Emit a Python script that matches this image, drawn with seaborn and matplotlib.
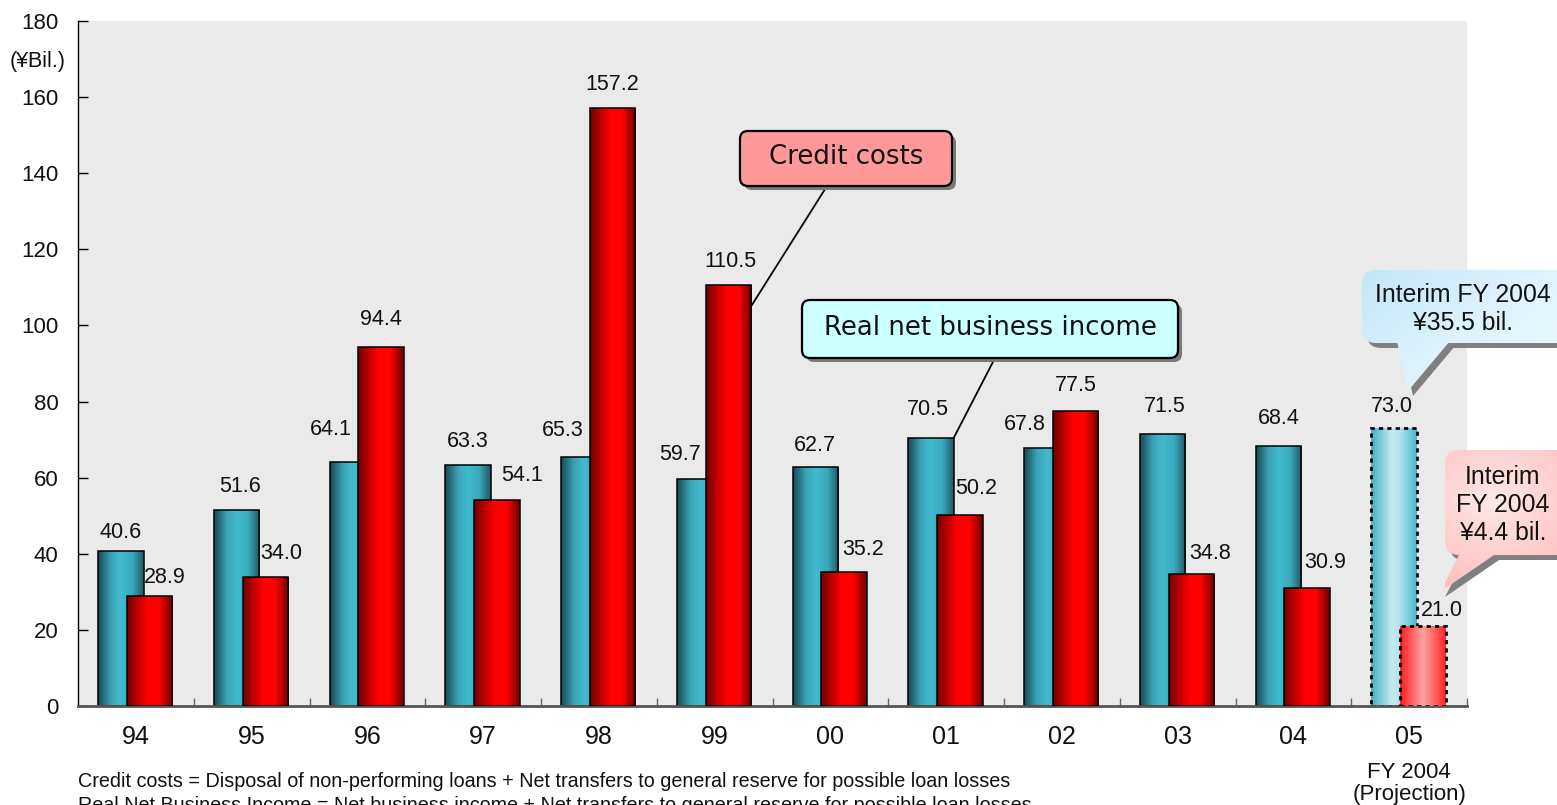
import numpy as np
import pandas as pd
import matplotlib
matplotlib.use("Agg")
import matplotlib.pyplot as plt
import seaborn as sns
from matplotlib.colors import LinearSegmentedColormap
from matplotlib.patches import FancyBboxPatch, Polygon

# Fiscal years (the last one is the FY2004 projection)
years = ["94", "95", "96", "97", "98", "99", "00", "01", "02", "03", "04", "05"]
real_net_business_income = [40.6, 51.6, 64.1, 63.3, 65.3, 59.7, 62.7, 70.5, 67.8, 71.5, 68.4, 73.0]
credit_costs = [28.9, 34.0, 94.4, 54.1, 157.2, 110.5, 35.2, 50.2, 77.5, 34.8, 30.9, 21.0]
y_ticks = list(range(0, 181, 20))
unit_label = "(¥Bil.)"
projection_label = ["FY 2004", "(Projection)"]
income_callout = "Real net business income"
cost_callout = "Credit costs"
interim_income_lines = ["Interim FY 2004", "¥35.5 bil."]
interim_cost_lines = ["Interim", "FY 2004", "¥4.4 bil."]
footnotes = [
    "Credit costs = Disposal of non-performing loans + Net transfers to general reserve for possible loan losses",
    "Real Net Business Income = Net business income + Net transfers to general reserve for possible loan losses",
]

# value-label nudges in pixels (horizontal shift, lift above the bar top)
income_dx = [0, 3, -22, 0, -21, -20, 0, -3, -22, 2, 0, -2]
income_dy = [19, 23, 33, 24, 27, 24, 22, 28, 23, 27, 27, 22]
cost_dx = [15, 16, 0, 25, 0, 2, 19, 16, 0, 19, 18, 19]
cost_dy = [19, 23, 27, 25, 23, 24, 23, 26, 26, 20, 26, 16]

sns.set_theme(style="white")
plt.rcParams["font.family"] = ["Liberation Sans", "DejaVu Sans"]
plt.rcParams["text.color"] = "#111111"

W, H = 1557, 805
fig = plt.figure(figsize=(W / 100, H / 100), dpi=100)
ax = fig.add_axes([78 / W, 1 - 706 / H, (1467 - 78) / W, (706 - 21) / H])
ax.set_facecolor("#EAEAEA")

n = len(years)
idx = np.arange(n)
income_df = pd.DataFrame({"pos": idx - 0.13, "value": real_net_business_income})
cost_df = pd.DataFrame({"pos": idx + 0.118, "value": credit_costs})

bar_kw = dict(x="pos", y="value", native_scale=True, width=0.393, orient="x",
              errorbar=None, edgecolor="black", linewidth=1.1, ax=ax)
sns.barplot(data=income_df, color="#3FB8CC", **bar_kw)
income_bars = list(ax.patches)
sns.barplot(data=cost_df, color="#FF0000", **bar_kw)
cost_bars = list(ax.patches)[len(income_bars):]

teal = [(0, "#174852"), (0.28, "#3aa3b6"), (0.5, "#42bbcf"), (0.75, "#3aa9bc"), (1, "#1d5762")]
red = [(0, "#6e0000"), (0.25, "#c40000"), (0.45, "#ff0000"), (0.7, "#ff0000"), (1, "#6a0000")]
teal_light = [(0, "#3fb0c6"), (0.45, "#c4ebf0"), (0.6, "#b8e5ec"), (1, "#46b8cc")]
red_light = [(0, "#ff1a1a"), (0.5, "#ffa3a3"), (1, "#ff2424")]


def shade(patch, stops, z):
    x0, y0 = patch.get_x(), patch.get_y()
    w, h = patch.get_width(), patch.get_height()
    cmap = LinearSegmentedColormap.from_list("bar", stops)
    img = ax.imshow(np.linspace(0, 1, 256)[None, :], cmap=cmap, aspect="auto",
                    extent=(x0, x0 + w, y0, y0 + h), interpolation="bilinear", zorder=z)
    img.set_clip_path(patch)
    patch.set_facecolor("none")
    patch.set_zorder(z + 0.05)


for i, p in enumerate(income_bars):
    shade(p, teal_light if i == n - 1 else teal, 2)
for i, p in enumerate(cost_bars):
    shade(p, red_light if i == n - 1 else red, 3)
for p in (income_bars[-1], cost_bars[-1]):
    p.set_linestyle((0, (1.5, 1.5)))
    p.set_linewidth(2)

ax.set_xlim(-0.5, n - 0.5)
ax.set_ylim(0, 180)

# value labels
for bars, vals, dxs, dys in ((income_bars, real_net_business_income, income_dx, income_dy),
                             (cost_bars, credit_costs, cost_dx, cost_dy)):
    for p, v, dx, dy in zip(bars, vals, dxs, dys):
        ax.annotate(f"{v:.1f}", xy=(p.get_x() + p.get_width() / 2, v), xytext=(dx, dy),
                    textcoords="offset pixels", ha="center", va="center",
                    fontsize=15.5, color="#111111", zorder=6)

# axes styling
for s in ("top", "right"):
    ax.spines[s].set_visible(False)
ax.spines["left"].set_color("black")
ax.spines["left"].set_linewidth(1)
ax.spines["bottom"].set_color("#555555")
ax.spines["bottom"].set_linewidth(2)
ax.set_yticks(y_ticks)
ax.tick_params(axis="y", direction="in", length=7, width=1, color="black",
               pad=14, labelsize=16, labelcolor="#111111", left=True)
ax.set_xticks(idx, years)
ax.set_xticks(idx + 0.5, minor=True)
ax.tick_params(axis="x", which="major", length=0, pad=14, labelsize=18, labelcolor="#111111")
ax.tick_params(axis="x", which="minor", direction="in", length=6, width=1,
               color="#666666", bottom=True)
ax.set_xlabel("")
ax.set_ylabel("")
ax.grid(False)

# overlay in figure pixels for callouts and notes
ov = fig.add_axes([0, 0, 1, 1], zorder=5)
ov.set_xlim(0, W)
ov.set_ylim(0, H)
ov.axis("off")


def px(x, y):
    return ax.transData.transform((x, y))


def Y(y):
    return H - y


def box(x0, y0, x1, y1, text, face):
    style = "round,pad=0,rounding_size=8"
    ov.add_patch(FancyBboxPatch((x0 + 4, Y(y1) - 4), x1 - x0, y1 - y0, boxstyle=style,
                                fc="#7a7a7a", ec="none", zorder=2))
    ov.add_patch(FancyBboxPatch((x0, Y(y1)), x1 - x0, y1 - y0, boxstyle=style,
                                fc=face, ec="black", lw=1.6, zorder=3))
    ov.text((x0 + x1) / 2, Y((y0 + y1) / 2) + 1, text, ha="center", va="center",
            fontsize=18.7, family="DejaVu Sans", color="#111111", zorder=4)


# leader lines to the bars they describe
p99 = cost_bars[5]
cx, cy = px(p99.get_x() + p99.get_width(), credit_costs[5] - 5.5)
ov.plot([827, cx], [Y(186), cy], color="black", lw=1.3, zorder=1)
p01 = income_bars[7]
ix, iy = px(p01.get_x() + p01.get_width(), real_net_business_income[7])
ov.plot([995, ix], [Y(358), iy], color="black", lw=1.3, zorder=1)

box(740, 131, 952, 186, cost_callout, "#FF9999")
box(802, 300, 1178, 358, income_callout, "#CCFFFF")


def bubble(x0, y0, x1, y1, tail, stops, radial, lines, line_y, cx_text):
    style = "round,pad=0,rounding_size=14"
    off = 5
    tail_pts = [(x, Y(y)) for x, y in tail]
    ov.add_patch(FancyBboxPatch((x0 + off, Y(y1) - off), x1 - x0, y1 - y0, boxstyle=style,
                                fc="#808080", ec="none", zorder=2))
    ov.add_patch(Polygon([(x + off, y - off) for x, y in tail_pts], closed=True,
                         fc="#808080", ec="none", zorder=2))
    body = FancyBboxPatch((x0, Y(y1)), x1 - x0, y1 - y0, boxstyle=style,
                          fc="none", ec="none", zorder=3)
    tip = Polygon(tail_pts, closed=True, fc="none", ec="none", zorder=3)
    ov.add_patch(body)
    ov.add_patch(tip)
    ymax = max(y for _, y in tail)
    gx, gy = np.meshgrid(np.linspace(0, 1, 120), np.linspace(0, 1, 120))
    if radial:
        t = np.clip(np.hypot((gx - 0.35) * 1.4, (gy - 0.35) * 1.6), 0, 1)
    else:
        t = np.clip(0.6 * gx + 0.4 * gy, 0, 1)
    cmap = LinearSegmentedColormap.from_list("bub", stops)
    for shape in (body, tip):
        im = ov.imshow(t, cmap=cmap, vmin=0, vmax=1, aspect="auto",
                       extent=(x0, x1, Y(ymax), Y(y0)), origin="upper",
                       interpolation="bilinear", zorder=3.1)
        im.set_clip_path(shape)
    for s, yy in zip(lines, line_y):
        ov.text(cx_text, Y(yy), s, ha="center", va="center", fontsize=17.8,
                color="#111111", zorder=4)


bubble(1362, 270, 1585, 343, [(1397, 341), (1450, 341), (1408, 391)],
       ["#c2e7f8", "#dff3fc", "#eef8fd"], False, interim_income_lines, [295, 323], 1463)
bubble(1445, 450, 1585, 555, [(1460, 553), (1497, 553), (1440, 592)],
       ["#ffe9e9", "#ffd4d4", "#ffc2c2"], True, interim_cost_lines, [477, 505, 533], 1503)
ov.set_xlim(0, W)
ov.set_ylim(0, H)

# unit, projection note, footnotes
ov.text(38, Y(61), unit_label, ha="center", va="center", fontsize=15.5, color="#111111")
gx11, _ = px(idx[-1], 0)
ov.text(gx11, Y(772), projection_label[0], ha="center", va="center", fontsize=16, color="#111111")
ov.text(gx11, Y(794), projection_label[1], ha="center", va="center", fontsize=16, color="#111111")
ov.text(78, Y(781), footnotes[0], ha="left", va="center", fontsize=14.2, color="#111111")
ov.text(78, Y(805), footnotes[1], ha="left", va="center", fontsize=14.2, color="#111111")

fig.savefig("out.png", dpi=100)
